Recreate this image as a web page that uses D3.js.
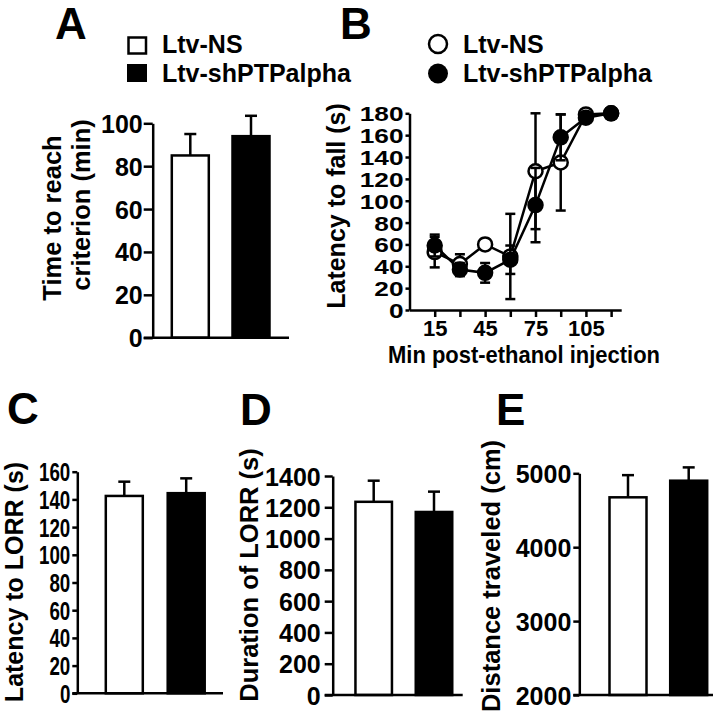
<!DOCTYPE html>
<html>
<head>
<meta charset="utf-8">
<script src="https://cdn.jsdelivr.net/npm/d3@7"></script>
<style>
  html, body { margin: 0; padding: 0; background: #fff; }
  svg text { font-family: "Liberation Sans", Arial, sans-serif; font-weight: bold; fill: #000; }
</style>
</head>
<body>
<svg id="fig" width="720" height="717"></svg>
<script>
// groups
const groups = ['Ltv-NS', 'Ltv-shPTPalpha'];

// A: time to reach criterion (min)
const critMean = [85, 94];
const critSem = [10, 9.5];
const critTicks = [0, 20, 40, 60, 80, 100];

// B: rotarod latency to fall (s) vs min post-injection
const rotaMin = [15, 30, 45, 60, 75, 90, 105, 120];
const rotaNsMean = [53, 42, 60, 49, 127, 135, 179, 180];
const rotaNsSem = [14, 9, 5, 39, 53, 44, 1, 0];
const rotaShMean = [59, 37, 34, 46, 96, 158, 176, 180];
const rotaShSem = [10, 6, 9, 13, 34, 21, 3, 0];
const rotaYTicks = [0, 20, 40, 60, 80, 100, 120, 140, 160, 180];
const rotaXLabels = [15, 45, 75, 105];

// C: latency to LORR (s)
const lorrLatMean = [142.5, 144.5];
const lorrLatSem = [10.3, 10.7];
const lorrLatTicks = [0, 20, 40, 60, 80, 100, 120, 140, 160];

// D: duration of LORR (s)
const lorrDurMean = [1235, 1170];
const lorrDurSem = [135, 130];
const lorrDurTicks = [0, 200, 400, 600, 800, 1000, 1200, 1400];

// E: distance traveled (cm)
const distMean = [4675, 4900];
const distSem = [300, 180];
const distTicks = [2000, 3000, 4000, 5000];

const svg = d3.select('#fig');
const LW = 2.5;
const fills = ['#fff', '#000'];

function styleTicks(g, size, sx) {
    g.attr('font-family', null).attr('font-size', null);
    g.selectAll('.tick text')
        .style('font-size', size + 'px')
        .style('font-weight', 'bold')
        .style('font-family', '"Liberation Sans", Arial, sans-serif')
        .attr('fill', '#000')
        .each(function () {
            if (sx && sx !== 1 && this.textContent) {
                const w = this.getComputedTextLength();
                d3.select(this).attr('textLength', w * sx).attr('lengthAdjust', 'spacingAndGlyphs');
            }
        });
    g.selectAll('.tick line').attr('stroke', '#000').attr('stroke-width', LW);
    g.select('.domain').attr('stroke', '#000').attr('stroke-width', LW);
}

function yLabel(text, bx, cy, size) {
    svg.append('text')
        .attr('transform', `translate(${bx},${cy}) rotate(-90)`)
        .attr('text-anchor', 'middle')
        .attr('font-size', size || 25)
        .text(text);
}

function panelLetter(t, x, y) {
    svg.append('text').attr('x', x).attr('y', y).attr('font-size', 44).text(t);
}

function barPanel(cfg) {
    const y = d3.scaleLinear().domain(cfg.domain).range([cfg.y0, cfg.y1]);
    const step = cfg.centers[1] - cfg.centers[0];
    const pad = 1 - cfg.bw / step;
    const x = d3.scaleBand().domain(groups)
        .range([cfg.centers[0] - step / 2, cfg.centers[1] + step / 2])
        .paddingInner(pad).paddingOuter(pad / 2);

    const g = svg.append('g');

    // error bars (upper only)
    groups.forEach((k, i) => {
        const cx = x(k) + x.bandwidth() / 2;
        const top = y(cfg.mean[i] + cfg.sem[i]);
        g.append('line').attr('x1', cx).attr('x2', cx)
            .attr('y1', y(cfg.mean[i])).attr('y2', top)
            .attr('stroke', '#000').attr('stroke-width', LW);
        g.append('line').attr('x1', cx - 6).attr('x2', cx + 6)
            .attr('y1', top).attr('y2', top)
            .attr('stroke', '#000').attr('stroke-width', LW);
    });

    g.selectAll('rect.bar').data(cfg.mean).enter().append('rect')
        .attr('class', 'bar')
        .attr('x', (d, i) => x(groups[i]))
        .attr('width', x.bandwidth())
        .attr('y', d => y(d))
        .attr('height', d => y(cfg.domain[0]) - y(d))
        .attr('fill', (d, i) => fills[i])
        .attr('stroke', '#000').attr('stroke-width', LW);

    const ax = svg.append('g')
        .attr('transform', `translate(${cfg.axisX},0)`)
        .call(d3.axisLeft(y).tickValues(cfg.ticks).tickSize(cfg.tickLen)
            .tickSizeOuter(0).tickPadding(cfg.tickPad || 2).tickFormat(d3.format('d')));
    styleTicks(ax, 25, cfg.sx);
    ax.selectAll('.tick text').attr('dy', '0.36em');

    // baseline
    svg.append('line')
        .attr('x1', cfg.axisX - cfg.tickLen).attr('x2', cfg.xEnd)
        .attr('y1', y(cfg.domain[0])).attr('y2', y(cfg.domain[0]))
        .attr('stroke', '#000').attr('stroke-width', LW);
}

// ---- A ----
panelLetter('A', 55, 39);
svg.append('rect').attr('x', 128.5).attr('y', 37.5).attr('width', 17.5).attr('height', 16)
    .attr('fill', '#fff').attr('stroke', '#000').attr('stroke-width', LW);
svg.append('rect').attr('x', 127).attr('y', 64).attr('width', 20).attr('height', 18).attr('fill', '#000');
svg.append('text').attr('x', 162).attr('y', 52.7).attr('font-size', 25).text(groups[0]);
svg.append('text').attr('x', 162).attr('y', 81.7).attr('font-size', 25).text(groups[1]);

barPanel({ domain: [0, 100], y0: 337.7, y1: 123.3, axisX: 152.7, xEnd: 289,
    centers: [190.3, 251], bw: 37, mean: critMean, sem: critSem, ticks: critTicks, tickLen: 9, tickPad: 1 });
yLabel('Time to reach', 61, 218, 25.5);
yLabel('criterion (min)', 90, 205, 25.5);

// ---- B ----
panelLetter('B', 340, 39);
svg.append('circle').attr('cx', 438).attr('cy', 44).attr('r', 9)
    .attr('fill', '#fff').attr('stroke', '#000').attr('stroke-width', LW);
svg.append('circle').attr('cx', 438).attr('cy', 73.5).attr('r', 10).attr('fill', '#000');
svg.append('text').attr('x', 463).attr('y', 53.3).attr('font-size', 25).text(groups[0]);
svg.append('text').attr('x', 463).attr('y', 81.7).attr('font-size', 25).text(groups[1]);

const bx = d3.scaleLinear().domain([0, 126]).range([409.5, 621.2]);
const by = d3.scaleLinear().domain([0, 180]).range([310, 113.3]);

const byAx = svg.append('g').attr('transform', `translate(${bx(0)},0)`)
    .call(d3.axisLeft(by).tickValues(rotaYTicks).tickSize(4).tickSizeOuter(0).tickPadding(2));
styleTicks(byAx, 21, 1.25);
byAx.selectAll('.tick text').attr('dy', '0.36em');

const bxAx = svg.append('g').attr('transform', `translate(0,${by(0)})`)
    .call(d3.axisBottom(bx).tickValues(rotaMin).tickSize(7).tickSizeOuter(0).tickPadding(3)
        .tickFormat(d => rotaXLabels.includes(d) ? d : ''));
styleTicks(bxAx, 22);
bxAx.selectAll('.tick text').attr('dy', '0.71em');

const series = [
    { mean: rotaNsMean, sem: rotaNsSem, fill: '#fff' },
    { mean: rotaShMean, sem: rotaShSem, fill: '#000' }
];
const lineGen = d3.line().x((d, i) => bx(rotaMin[i])).y(d => by(d));
series.forEach(s => {
    const g = svg.append('g');
    rotaMin.forEach((m, i) => {
        if (!s.sem[i]) return;
        const cx = bx(m), hi = by(s.mean[i] + s.sem[i]), lo = by(s.mean[i] - s.sem[i]);
        g.append('line').attr('x1', cx).attr('x2', cx).attr('y1', lo).attr('y2', hi)
            .attr('stroke', '#000').attr('stroke-width', LW);
        [hi, lo].forEach(yy => g.append('line').attr('x1', cx - 5).attr('x2', cx + 5)
            .attr('y1', yy).attr('y2', yy).attr('stroke', '#000').attr('stroke-width', LW));
    });
    g.append('path').datum(s.mean).attr('d', lineGen)
        .attr('fill', 'none').attr('stroke', '#000').attr('stroke-width', LW);
    g.selectAll('circle').data(s.mean).enter().append('circle')
        .attr('cx', (d, i) => bx(rotaMin[i])).attr('cy', d => by(d)).attr('r', 7)
        .attr('fill', s.fill).attr('stroke', '#000').attr('stroke-width', LW);
});
yLabel('Latency to fall (s)', 345, 206, 25);
svg.append('text').attr('x', 524).attr('y', 362.5).attr('text-anchor', 'middle')
    .attr('font-size', 24).attr('textLength', 272).attr('lengthAdjust', 'spacingAndGlyphs')
    .text('Min post-ethanol injection');

// ---- C ----
panelLetter('C', 7, 424);
barPanel({ domain: [0, 160], y0: 693.3, y1: 471.7, axisX: 77.3, xEnd: 223,
    centers: [124.3, 186.2], bw: 37, mean: lorrLatMean, sem: lorrLatSem, ticks: lorrLatTicks, tickLen: 5, sx: 0.75 });
yLabel('Latency to LORR (s)', 23, 582, 25);

// ---- D ----
panelLetter('D', 240, 425);
barPanel({ domain: [0, 1400], y0: 695, y1: 476, axisX: 332.7, xEnd: 462.7,
    centers: [373.7, 434], bw: 36.5, mean: lorrDurMean, sem: lorrDurSem, ticks: lorrDurTicks, tickLen: 8, tickPad: 4 });
yLabel('Duration of LORR (s)', 258, 575, 25.5);

// ---- E ----
panelLetter('E', 496, 425);
barPanel({ domain: [2000, 5000], y0: 695, y1: 473.3, axisX: 579.3, xEnd: 713,
    centers: [628, 688.7], bw: 37, mean: distMean, sem: distSem, ticks: distTicks, tickLen: 6, tickPad: 2 });
yLabel('Distance traveled (cm)', 500, 576, 25.5);
</script>
</body>
</html>
